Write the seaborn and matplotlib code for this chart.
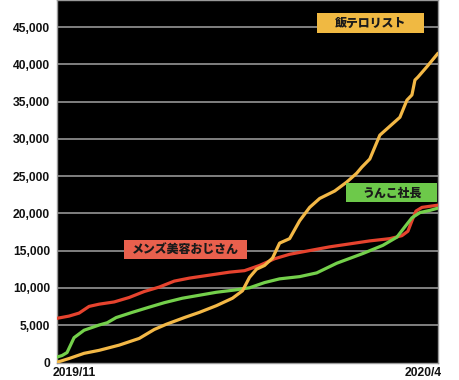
import matplotlib
matplotlib.use("Agg")
import matplotlib.pyplot as plt
import matplotlib.patches as mpatches
import matplotlib.transforms as mtrans
from matplotlib.ticker import FuncFormatter
import seaborn as sns
import pandas as pd

# ---- data (days since 2019/11/01, followers) ----
series_names = ["メンズ美容おじさん", "うんこ社長", "飯テロリスト"]

red_days = [0, 4.8, 8.8, 12.8, 16.8, 22.8, 28.8, 34.8, 40.8, 46.8, 52.8, 60.8, 68.8, 74.8,
            80.8, 86.8, 92.8, 100.8, 108.8, 116.8, 124.8, 132.8, 137.6, 140.0, 141.6,
            143.2, 145.6, 148.8, 152.0]
red_vals = [5900, 6200, 6600, 7500, 7800, 8100, 8700, 9500, 10100, 10900, 11300, 11700,
            12100, 12300, 13000, 13900, 14500, 15000, 15500, 15900, 16300, 16600, 17000,
            17600, 19000, 20300, 20800, 20950, 21100]

green_days = [0, 2.0, 4.0, 6.8, 10.8, 16.8, 20.0, 23.6, 30.0, 36.8, 42.8, 50.0, 56.8, 63.6,
              70.8, 76.8, 82.8, 88.8, 96.8, 103.6, 111.6, 122.0, 130.0, 135.6, 138.8,
              141.6, 144.8, 148.8, 152.0]
green_vals = [700, 900, 1300, 3300, 4300, 5000, 5300, 6000, 6700, 7400, 8000, 8600, 9000,
              9400, 9700, 10000, 10700, 11200, 11500, 12000, 13300, 14600, 15700, 16800,
              18200, 19400, 20100, 20400, 20700]

yellow_days = [0, 4.8, 10.8, 16.8, 24.8, 32.8, 38.8, 43.6, 50.8, 56.8, 63.6, 70.0, 74.0,
               76.8, 79.6, 82.8, 86.0, 88.8, 92.8, 96.8, 100.8, 104.8, 110.8, 115.6, 119.6,
               121.6, 124.8, 128.8, 136.8, 139.6, 141.6, 142.8, 144.0, 147.6, 152.0]
yellow_vals = [0, 500, 1200, 1600, 2300, 3200, 4400, 5100, 6000, 6700, 7600, 8600, 9600,
               11400, 12500, 13000, 14000, 16000, 16600, 19000, 20800, 22000, 23000, 24200,
               25400, 26200, 27300, 30500, 32900, 35200, 35900, 37900, 38300, 39700, 41500]

y_ticks = [0, 5000, 10000, 15000, 20000, 25000, 30000, 35000, 40000, 45000]
x_tick_days = [0, 152]
x_tick_labels = ["2019/11", "2020/4"]

line_colors = {"メンズ美容おじさん": "#E6432E", "うんこ社長": "#74D04B", "飯テロリスト": "#F3B846"}
box_colors = {"メンズ美容おじさん": "#E9604D", "うんこ社長": "#6DC94A", "飯テロリスト": "#F0B942"}

df = pd.concat([
    pd.DataFrame({"day": red_days, "value": red_vals, "name": series_names[0]}),
    pd.DataFrame({"day": green_days, "value": green_vals, "name": series_names[1]}),
    pd.DataFrame({"day": yellow_days, "value": yellow_vals, "name": series_names[2]}),
], ignore_index=True)

sns.set_style("white")
plt.rcParams["font.family"] = ["Noto Sans CJK JP", "Liberation Sans", "DejaVu Sans"]

fig = plt.figure(figsize=(4.6, 3.8), dpi=100)
ax = fig.add_axes([57 / 460, 1 - 363 / 380, 381 / 460, 363 / 380])
ax.set_facecolor("black")

for y in y_ticks[1:]:
    ax.axhline(y, color="#8a8a8a", lw=1.3, zorder=1)

sns.lineplot(data=df, x="day", y="value", hue="name", palette=line_colors,
             linewidth=2.3, legend=False, ax=ax, zorder=3, sort=True)

ax.set_xlim(0, 152)
ax.set_ylim(-100, 48650)
ax.set_yticks(y_ticks)
ax.yaxis.set_major_formatter(FuncFormatter(lambda v, p: f"{int(v):,}"))
ax.set_xticks(x_tick_days)
ax.set_xticklabels(x_tick_labels)
ax.set_xlabel("")
ax.set_ylabel("")
ax.tick_params(axis="y", length=0, labelsize=8.7, pad=5)
ax.tick_params(axis="x", length=0, labelsize=8.7, pad=3)
for lab in ax.get_yticklabels() + ax.get_xticklabels():
    lab.set_fontweight("bold")
    lab.set_family(["Liberation Sans", "DejaVu Sans"])
    lab.set_color("#111111")
xl = ax.get_xticklabels()
xl[0].set_horizontalalignment("left")
xl[1].set_horizontalalignment("right")
xl[0].set_transform(xl[0].get_transform() + mtrans.ScaledTranslation(-4 / 100, 0, fig.dpi_scale_trans))
xl[1].set_transform(xl[1].get_transform() + mtrans.ScaledTranslation(4 / 100, 0, fig.dpi_scale_trans))

for sp in ax.spines.values():
    sp.set_color("#9a9a9a")
    sp.set_linewidth(1)

# label boxes (axes fraction)
boxes = {
    "飯テロリスト": (0.682, 0.909, 0.281, 0.055),
    "うんこ社長": (0.759, 0.4435, 0.239, 0.052),
    "メンズ美容おじさん": (0.176, 0.2865, 0.323, 0.052),
}
for name, (bx, by, bw, bh) in boxes.items():
    ax.add_patch(mpatches.Rectangle((bx, by), bw, bh, transform=ax.transAxes,
                                    facecolor=box_colors[name], edgecolor="none", zorder=5))
    ax.text(bx + bw / 2, by + bh / 2, name, transform=ax.transAxes, ha="center",
            va="center", fontsize=8.6, fontweight=900, color="#1a1a1a", zorder=6,
            family=["Noto Sans CJK JP", "DejaVu Sans"])

fig.savefig("out.png", dpi=100, facecolor="white")
